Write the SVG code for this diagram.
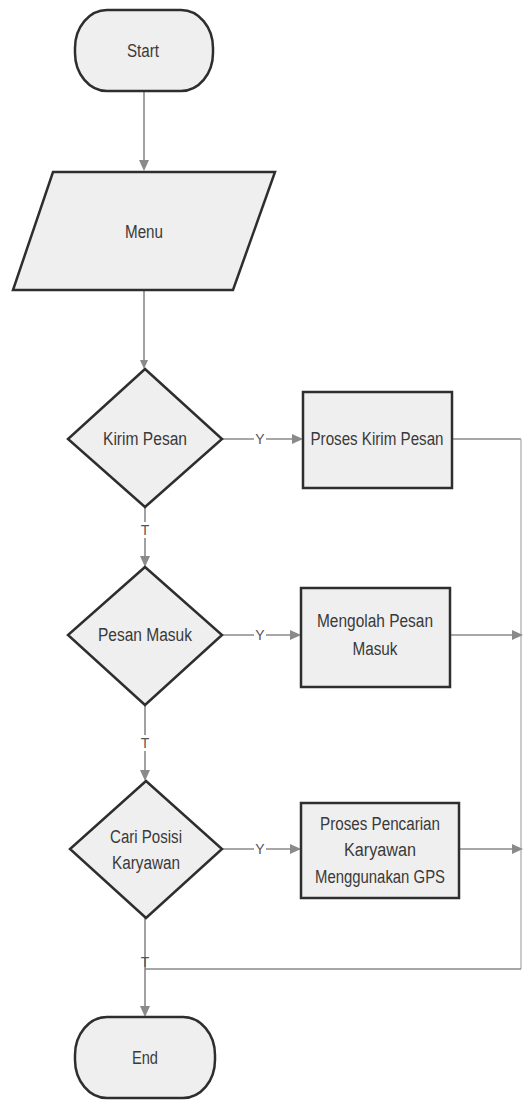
<svg xmlns="http://www.w3.org/2000/svg" width="524" height="1101" viewBox="0 0 524 1101">
<style>
.node{fill:#efefef;stroke:#2e2e2e;stroke-width:2.5}
.lbl{font-family:"Liberation Sans Narrow","Liberation Sans",Arial,sans-serif;font-size:18px;fill:#3a3a3a;text-anchor:middle;dominant-baseline:central}
.cl{font-family:"Liberation Sans Narrow","Liberation Sans",Arial,sans-serif;font-size:14px;fill:#555;text-anchor:middle;dominant-baseline:central}
.ln{fill:none;stroke:#8a8a8a;stroke-width:1.6}
.ln2{fill:none;stroke:#b5b5b5;stroke-width:1.4}
.ah{fill:#8a8a8a}
.bg{fill:#ffffff}
</style>
<rect width="524" height="1101" fill="#ffffff"/>
<g id="connectors">
<path class="ln" d="M144,91 V162"/>
<polygon class="ah" points="139,160 149,160 144,171"/>
<path class="ln" d="M144,290 V362"/>
<polygon class="ah" points="140,360 148,360 144,369"/>
<path class="ln" d="M222,439 H294"/>
<polygon class="ah" points="292,434 292,444 303,439"/>
<rect class="bg" x="254" y="431" width="12" height="16"/>
<text class="cl" x="260" y="439">Y</text>
<path class="ln" d="M452,439 H521"/>
<path class="ln2" d="M521,439 V969"/>
<path class="ln" d="M521,969 H145"/>
<path class="ln" d="M145,507 V558"/>
<polygon class="ah" points="140,556 150,556 145,567"/>
<rect class="bg" x="139" y="522" width="12" height="16"/>
<text class="cl" x="145" y="530">T</text>
<path class="ln" d="M222,635 H292"/>
<polygon class="ah" points="290,630 290,640 301,635"/>
<rect class="bg" x="254" y="627" width="12" height="16"/>
<text class="cl" x="260" y="635">Y</text>
<path class="ln" d="M450,635 H514"/>
<polygon class="ah" points="512,630 512,640 523,635"/>
<path class="ln" d="M145,705 V772"/>
<polygon class="ah" points="140,770 150,770 145,781"/>
<rect class="bg" x="139" y="735" width="12" height="16"/>
<text class="cl" x="145" y="743">T</text>
<path class="ln" d="M222,849 H292"/>
<polygon class="ah" points="290,844 290,854 301,849"/>
<rect class="bg" x="254" y="841" width="12" height="16"/>
<text class="cl" x="260" y="849">Y</text>
<path class="ln" d="M459,849 H514"/>
<polygon class="ah" points="512,844 512,854 523,849"/>
<path class="ln" d="M145,918 V1008"/>
<polygon class="ah" points="140,1006 150,1006 145,1017"/>
<text class="cl" x="145" y="962">T</text>
</g>
<g id="start">
<rect class="node" x="75" y="10" width="138" height="81" rx="32" ry="38"/>
<text class="lbl" x="143" y="51" textLength="32" lengthAdjust="spacingAndGlyphs">Start</text>
</g>
<g id="menu">
<polygon class="node" points="53,172 275,172 233,290 13,290"/>
<text class="lbl" x="144" y="232" textLength="38" lengthAdjust="spacingAndGlyphs">Menu</text>
</g>
<g id="kirim-pesan">
<polygon class="node" points="145,369 222,439 145,507 68,439"/>
<text class="lbl" x="145" y="439" textLength="84" lengthAdjust="spacingAndGlyphs">Kirim Pesan</text>
</g>
<g id="proses-kirim-pesan">
<rect class="node" x="303" y="392" width="149" height="96"/>
<text class="lbl" x="377" y="439" textLength="133" lengthAdjust="spacingAndGlyphs">Proses Kirim Pesan</text>
</g>
<g id="pesan-masuk">
<polygon class="node" points="145,567 222,635 145,705 68,635"/>
<text class="lbl" x="145" y="635" textLength="94" lengthAdjust="spacingAndGlyphs">Pesan Masuk</text>
</g>
<g id="mengolah-pesan-masuk">
<rect class="node" x="301" y="588" width="149" height="99"/>
<text class="lbl" x="375" y="621" textLength="116" lengthAdjust="spacingAndGlyphs">Mengolah Pesan</text>
<text class="lbl" x="375" y="649" textLength="45" lengthAdjust="spacingAndGlyphs">Masuk</text>
</g>
<g id="cari-posisi-karyawan">
<polygon class="node" points="146,781 222,849 146,918 70,849"/>
<text class="lbl" x="146" y="837" textLength="72" lengthAdjust="spacingAndGlyphs">Cari Posisi</text>
<text class="lbl" x="146" y="863" textLength="68" lengthAdjust="spacingAndGlyphs">Karyawan</text>
</g>
<g id="proses-pencarian">
<rect class="node" x="301" y="803" width="158" height="95"/>
<text class="lbl" x="380" y="824" textLength="120" lengthAdjust="spacingAndGlyphs">Proses Pencarian</text>
<text class="lbl" x="380" y="850" textLength="72" lengthAdjust="spacingAndGlyphs">Karyawan</text>
<text class="lbl" x="380" y="877" textLength="130" lengthAdjust="spacingAndGlyphs">Menggunakan GPS</text>
</g>
<g id="end">
<rect class="node" x="75" y="1017" width="140" height="81" rx="32" ry="38"/>
<text class="lbl" x="145" y="1058" textLength="26" lengthAdjust="spacingAndGlyphs">End</text>
</g>
</svg>
